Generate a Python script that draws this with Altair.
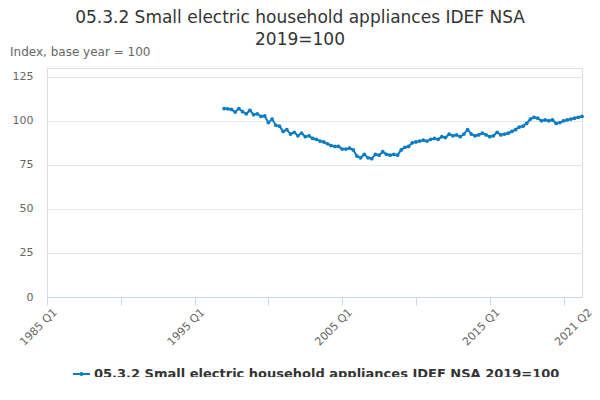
import pandas as pd
import altair as alt

# quarterly values, 1997 Q1 .. 2021 Q2
years = list(range(1997, 2022))
values = [
    107.0, 106.8, 106.5, 105.0,
    107.0, 105.2, 104.0, 106.0,
    103.5, 104.0, 102.5, 102.8,
    99.0, 101.0, 97.5, 97.0,
    94.0, 95.0, 92.5, 93.5,
    91.5, 93.0, 91.0, 91.5,
    90.0, 89.5, 88.5, 88.0,
    87.0, 86.0, 85.5, 85.5,
    84.0, 84.0, 84.5, 83.5,
    80.0, 79.0, 81.0, 79.0,
    78.5, 81.0, 80.5, 82.5,
    81.0, 80.5, 81.0, 80.5,
    83.5, 85.0, 85.5, 87.5,
    88.0, 88.5, 89.0, 88.5,
    89.5, 90.0, 89.5, 91.0,
    90.5, 92.5, 91.5, 92.0,
    91.0, 92.5, 95.0, 92.5,
    91.5, 92.0, 93.0, 92.0,
    91.0, 91.5, 93.5, 92.0,
    92.5, 93.0, 94.0, 95.0,
    96.5, 97.0, 98.5, 101.0,
    102.0, 101.5, 100.0, 100.5,
    100.0, 100.5, 98.5, 99.0,
    100.0, 100.5, 101.0, 101.5,
    102.0, 102.5,
]
tick_quarters = list(range(0, 141, 10)) + [145]
label_quarters = [0, 40, 80, 120, 145]
SERIES = "05.3.2 Small electric household appliances IDEF NSA 2019=100"
LINE = "#0b7cc4"
GREY = "#666666"

# quarter index counted from 1985 Q1
start = (1997 - 1985) * 4
df = pd.DataFrame({"q": [start + i for i in range(len(values))], "value": values})
df["label"] = [f"{1985 + q // 4} Q{q % 4 + 1}" for q in df["q"]]
lab_df = pd.DataFrame({"q": label_quarters,
                       "t": [f"{1985 + q // 4} Q{q % 4 + 1}" for q in label_quarters]})

xscale = alt.Scale(domain=[0, 145], nice=False, zero=False)
x = alt.X("q:Q", scale=xscale,
          axis=alt.Axis(values=tick_quarters, labels=False, grid=False,
                        domainColor="#ccd6eb", tickColor="#ccd6eb", tickSize=8, title=None))
y = alt.Y("value:Q", scale=alt.Scale(domain=[0, 125]),
          axis=alt.Axis(values=[0, 25, 50, 75, 100, 125], domain=False, ticks=False,
                        gridColor="#e6e6e6", labelColor=GREY, labelFontSize=11,
                        labelPadding=14, title=None))

line = alt.Chart(df).mark_line(color=LINE, strokeWidth=2).encode(x=x, y=y)
pts = alt.Chart(df).mark_point(color=LINE, filled=True, size=14, opacity=1).encode(
    x="q:Q", y="value:Q", tooltip=["label:N", "value:Q"])
xlabels = alt.Chart(lab_df).mark_text(
    angle=315, align="right", baseline="top", fontSize=11, color=GREY, dx=4, dy=2
).encode(x=alt.X("q:Q", scale=xscale), y=alt.value(240), text="t:N")

def txt(t, px, py, size=12, color=GREY, align="left", weight="normal"):
    return alt.Chart(pd.DataFrame({"t": [t]})).mark_text(
        align=align, baseline="middle", fontSize=size, color=color, fontWeight=weight
    ).encode(x=alt.value(px), y=alt.value(py), text="t:N")

title1 = txt("05.3.2 Small electric household appliances IDEF NSA", 253, -50, 17, "#333333", "center")
title2 = txt("2019=100", 253, -28, 17, "#333333", "center")
ylab = txt("Index, base year = 100", -37, -16, 12)
leg_line = alt.Chart(pd.DataFrame({"a": [0]})).mark_rule(color=LINE, strokeWidth=2).encode(
    x=alt.value(26), x2=alt.value(43), y=alt.value(306))
leg_pt = alt.Chart(pd.DataFrame({"a": [0]})).mark_point(color=LINE, filled=True, size=16, opacity=1).encode(
    x=alt.value(34.5), y=alt.value(306))
leg_txt = txt(SERIES, 47, 306, 13, "#333333", "left", "bold")
source = txt("Source:", 542, 321, 12, GREY, "right")

chart = alt.layer(line, pts, xlabels, title1, title2, ylab, leg_line, leg_pt, leg_txt, source).properties(
    width=535, height=229,
    autosize=alt.AutoSizeParams(type="none"),
    padding={"left": 39, "top": 60, "right": 10, "bottom": 80},
).configure_view(strokeOpacity=0).configure(font="DejaVu Sans")

chart.save("out.html", embed_options={"renderer": "svg", "actions": False})
